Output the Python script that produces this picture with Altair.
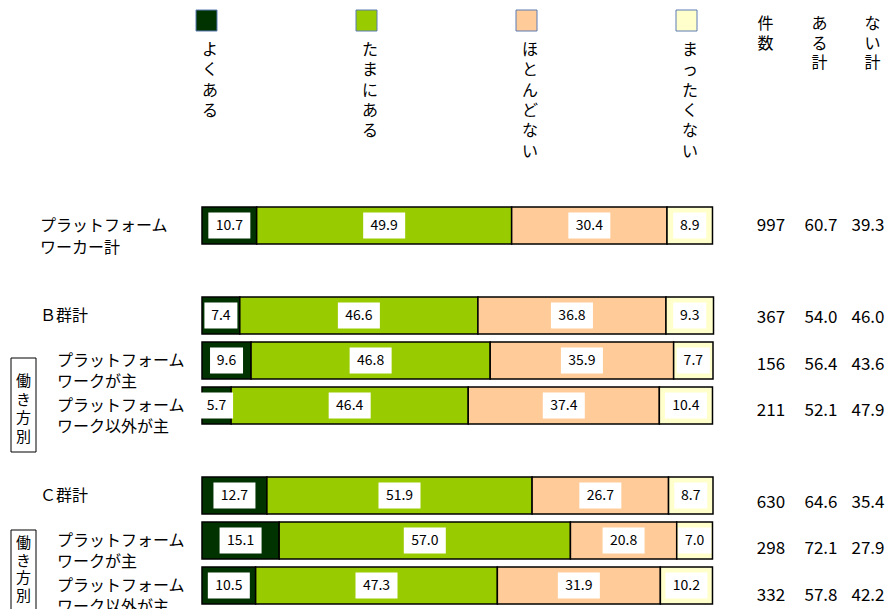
import altair as alt
import pandas as pd

# ---------------- data ----------------
row_labels = [
    "プラットフォーム\nワーカー計",
    "Ｂ群計",
    "プラットフォーム\nワークが主",
    "プラットフォーム\nワーク以外が主",
    "Ｃ群計",
    "プラットフォーム\nワークが主",
    "プラットフォーム\nワーク以外が主",
]
row_level = ["total", "total", "sub", "sub", "total", "sub", "sub"]
row_group = [1, 2, 2, 2, 3, 3, 3]
responses = ["よくある", "たまにある", "ほとんどない", "まったくない"]
often = [10.7, 7.4, 9.6, 5.7, 12.7, 15.1, 10.5]
sometimes = [49.9, 46.6, 46.8, 46.4, 51.9, 57.0, 47.3]
rarely = [30.4, 36.8, 35.9, 37.4, 26.7, 20.8, 31.9]
never = [8.9, 9.3, 7.7, 10.4, 8.7, 7.0, 10.2]
counts = [997, 367, 156, 211, 630, 298, 332]
yes_total = [60.7, 54.0, 56.4, 52.1, 64.6, 72.1, 57.8]
no_total = [39.3, 46.0, 43.6, 47.9, 35.4, 27.9, 42.2]
header_labels = ["件数", "ある計", "ない計"]
side_box_label = "働き方別"
colors = ["#003300", "#99CC00", "#FFCC99", "#FFFFCC"]

# ---------------- layout ----------------
FONT = "Noto Sans CJK JP"
W, H = 877, 601
X0_PX, X100_PX = 194, 705
PX_PER_PCT = (X100_PX - X0_PX) / 100.0
x_scale = alt.Scale(domain=[-X0_PX / PX_PER_PCT, (W - X0_PX) / PX_PER_PCT],
                    nice=False, zero=False)

keys = [f"r{i}" for i in range(len(row_labels))]
domain = []
prev = None
for k, g in zip(keys, row_group):
    if prev is not None and g != prev:
        domain.append(f"gap{g}")
    domain.append(k)
    prev = g

STEP, BAR_H = 45.0, 37.0
pin = (STEP - BAR_H) / STEP
bar_y_scale = alt.Scale(domain=domain, range=[195, 195 + STEP * len(domain)],
                        paddingInner=pin, paddingOuter=pin / 2)
STEP2 = 46.2
num_y_scale = alt.Scale(domain=domain, range=[218 - STEP2 / 2, 218 - STEP2 / 2 + STEP2 * len(domain)],
                        paddingInner=pin, paddingOuter=pin / 2)

# ---------------- tables ----------------
recs = []
for i, k in enumerate(keys):
    vals = [often[i], sometimes[i], rarely[i], never[i]]
    start = 0.0
    for j, (r, v) in enumerate(zip(responses, vals)):
        lab = f"{v:.1f}"
        half = (9 * len(lab) + 6) / 2 / PX_PER_PCT
        mid = start + v / 2
        recs.append(dict(key=k, resp=r, order=j, start=start, end=start + v,
                         mid=mid, box_l=mid - half, box_r=mid + half, label=lab))
        start += v
bars_df = pd.DataFrame(recs)

rows_df = pd.DataFrame({
    "key": keys, "label": row_labels, "level": row_level,
    "n": [str(c) for c in counts],
    "yes": [f"{v:.1f}" for v in yes_total],
    "no": [f"{v:.1f}" for v in no_total],
})

Y = alt.Y("key:N", scale=bar_y_scale, axis=None)
YN = alt.Y("key:N", scale=num_y_scale, axis=None)

bars = alt.Chart(bars_df).mark_bar(stroke="black", strokeWidth=1.5).encode(
    x=alt.X("start:Q", scale=x_scale, axis=None),
    x2="end:Q",
    y=Y,
    color=alt.Color("resp:N", scale=alt.Scale(domain=responses, range=colors), legend=None),
)
boxes = alt.Chart(bars_df).mark_bar(color="white", size=26).encode(
    x=alt.X("box_l:Q", scale=x_scale, axis=None), x2="box_r:Q", y=Y)
vals_txt = alt.Chart(bars_df).mark_text(font=FONT, fontSize=14, color="black").encode(
    x=alt.X("mid:Q", scale=x_scale, axis=None), y=Y, text="label:N")

lab_total = alt.Chart(rows_df[rows_df.level == "total"]).mark_text(
    font=FONT, fontSize=16, align="left", baseline="middle", lineBreak="\n",
    lineHeight=22, color="black").encode(x=alt.value(32), y=Y, text="label:N")
lab_sub = alt.Chart(rows_df[rows_df.level == "sub"]).mark_text(
    font=FONT, fontSize=16, align="left", baseline="middle", lineBreak="\n",
    lineHeight=21, color="black").encode(x=alt.value(49), y=Y, text="label:N")

num_layers = []
for field, xc in zip(["n", "yes", "no"], [763, 813, 860]):
    num_layers.append(alt.Chart(rows_df).mark_text(
        font=FONT, fontSize=17, align="center", baseline="middle", color="black").encode(
        x=alt.value(xc), y=YN, text=f"{field}:N"))

layers = [bars, boxes, vals_txt, lab_total, lab_sub] + num_layers

# legend
for i, (r, c) in enumerate(zip(responses, colors)):
    d = pd.DataFrame({"resp": [r], "v": ["\n".join(list(r))]})
    layers.append(alt.Chart(d).mark_rect(fill=c, stroke="#5b7bb4", strokeWidth=1).encode(
        x=alt.value(188 + 160 * i), x2=alt.value(209 + 160 * i),
        y=alt.value(2), y2=alt.value(23)))
    layers.append(alt.Chart(d).mark_text(
        font=FONT, fontSize=16, align="center", baseline="top", lineBreak="\n",
        lineHeight=20.3, color="black").encode(
        x=alt.value(202 + 160 * i), y=alt.value(34), text="v:N"))

# headers
for h, xc in zip(header_labels, [757.5, 811.5, 864.5]):
    d = pd.DataFrame({"v": ["\n".join(list(h))]})
    layers.append(alt.Chart(d).mark_text(
        font=FONT, fontSize=16, align="center", baseline="top", lineBreak="\n",
        lineHeight=19.5, color="black").encode(x=alt.value(xc), y=alt.value(8), text="v:N"))

# side boxes
for top, bottom, ttop, lh in [(350, 444, 366, 18.5), (522, 616, 528, 17.5)]:
    d = pd.DataFrame({"v": ["\n".join(list(side_box_label))]})
    layers.append(alt.Chart(d).mark_rect(fill="white", stroke="black", strokeWidth=1).encode(
        x=alt.value(3), x2=alt.value(28), y=alt.value(top), y2=alt.value(bottom)))
    layers.append(alt.Chart(d).mark_text(
        font=FONT, fontSize=15, align="center", baseline="top", lineBreak="\n",
        lineHeight=lh, color="black").encode(x=alt.value(15.5), y=alt.value(ttop), text="v:N"))

chart = alt.layer(*layers).resolve_scale(y="independent").properties(
    width=W, height=H, padding=0, background="white",
    autosize=alt.AutoSizeParams(type="none"),
).configure_view(stroke=None)

chart.save("out.html", embed_options={"renderer": "svg", "actions": False})
